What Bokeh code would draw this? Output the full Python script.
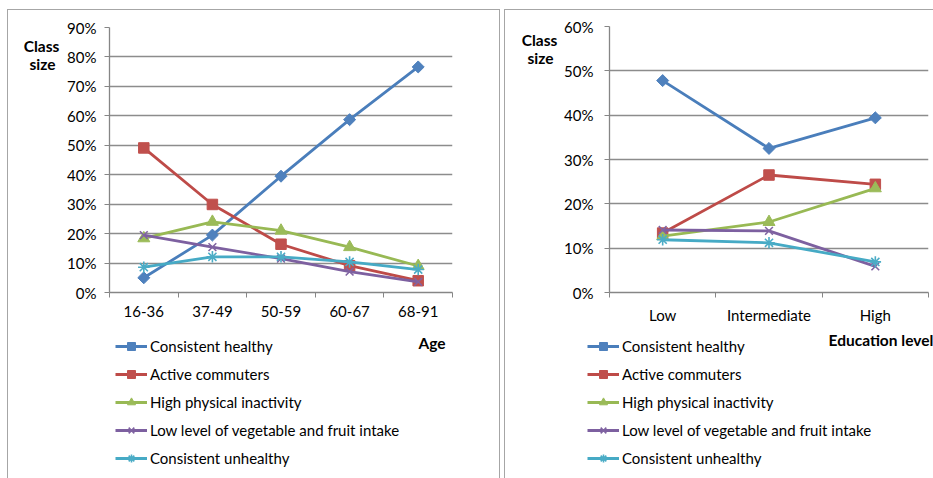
import numpy as np
from bokeh.plotting import figure
from bokeh.layouts import row, column
from bokeh.models import FixedTicker, NumeralTickFormatter, Range1d, Label
from bokeh.embed import file_html
from bokeh.resources import INLINE

# ---------------- data ----------------
series_names = ["Consistent healthy", "Active commuters", "High physical inactivity",
                "Low level of vegetable and fruit intake", "Consistent unhealthy"]

age_groups = ["16-36", "37-49", "50-59", "60-67", "68-91"]
age_healthy = [0.050, 0.195, 0.395, 0.587, 0.766]
age_commuters = [0.491, 0.299, 0.164, 0.091, 0.040]
age_inactivity = [0.184, 0.240, 0.210, 0.154, 0.090]
age_lowveg = [0.195, 0.154, 0.115, 0.071, 0.036]
age_unhealthy = [0.086, 0.121, 0.121, 0.104, 0.078]

edu_levels = ["Low", "Intermediate", "High"]
edu_healthy = [0.478, 0.325, 0.394]
edu_commuters = [0.134, 0.265, 0.244]
edu_inactivity = [0.127, 0.159, 0.235]
edu_lowveg = [0.141, 0.139, 0.059]
edu_unhealthy = [0.119, 0.112, 0.069]

age_ticks = [0, 0.1, 0.2, 0.3, 0.4, 0.5, 0.6, 0.7, 0.8, 0.9]
edu_ticks = [0, 0.1, 0.2, 0.3, 0.4, 0.5, 0.6]

# ---------------- style ----------------
line_colors = ["#4A7EBB", "#BE4B48", "#98B954", "#7D60A0", "#46AAC5"]
fill_colors = ["#4F81BD", "#C0504D", "#9BBB59", "#8064A2", "#4BACC6"]
markers = [("square", 8.5, np.pi / 4), ("square", 10.5, 0), ("triangle", 12, 0),
           ("x", 11, 0), ("asterisk", 11.5, 0)]
FONT = "Lato"
TICK_SIZE = "15px"
BOLD_SIZE = "15.5px"
GRID = "#8C8C8C"
AXIS = "#868686"
BORDER = "1px solid #A6A6A6"

TOP_H = 316      # height of the chart row
LEG_H = 152      # height of the legend strip
CLASS_W = 56     # width of the "Class size" strip


def blank_fig(w, h):
    f = figure(width=w, height=h, output_backend="svg", toolbar_location=None,
               x_range=Range1d(0, w), y_range=Range1d(0, h),
               x_axis_location=None, y_axis_location=None,
               min_border_left=0, min_border_right=0, min_border_top=0,
               min_border_bottom=0, outline_line_color=None,
               background_fill_color="white", border_fill_color="white")
    f.grid.visible = False
    return f


def add_series(p, xs, values, legend=False, y_range_name="default"):
    for i, (name, vals) in enumerate(zip(series_names, values)):
        m, s, a = markers[i]
        kw = dict(legend_label=name) if legend else {}
        p.line(xs, vals, line_color=line_colors[i], line_width=2.8,
               y_range_name=y_range_name, **kw)
        p.scatter(xs, vals, marker=m, size=s, angle=a, fill_color=fill_colors[i],
                  line_color=fill_colors[i],
                  line_width=1.6 if m in ("x", "asterisk") else 1,
                  y_range_name=y_range_name, **kw)


def make_panel(cats, values, yticks, chart_w, fl, fr, ft, fb, ystandoff,
               class_pos, legend_x, xlab, xlab_pos, panel_w, border_styles):
    ncat = len(cats)
    ymax = yticks[-1]
    xs = np.arange(ncat) + 0.5

    # ---- "Class size" strip ----
    cf = blank_fig(CLASS_W, TOP_H)
    for txt, (px, py) in zip(("Class", "size"), class_pos):
        cf.add_layout(Label(x=px, y=TOP_H - py, text=txt, text_font=FONT,
                            text_font_style="bold", text_font_size=BOLD_SIZE,
                            text_align="center", text_baseline="middle",
                            text_color="#000000"))

    # ---- chart ----
    p = figure(width=chart_w, height=TOP_H, output_backend="svg", toolbar_location=None,
               x_range=Range1d(0, ncat), y_range=Range1d(0, ymax),
               min_border_left=fl, min_border_right=fr, min_border_top=ft,
               min_border_bottom=fb, outline_line_color=None,
               background_fill_color="white", border_fill_color="white")
    add_series(p, xs, values)

    xa = p.xaxis[0]
    xa.ticker = FixedTicker(ticks=list(xs), minor_ticks=list(range(ncat + 1)))
    xa.major_label_overrides = {float(x): c for x, c in zip(xs, cats)}
    xa.major_tick_line_color = None
    xa.major_tick_out = 5
    xa.major_tick_in = 0
    xa.minor_tick_line_color = AXIS
    xa.minor_tick_out = 5
    xa.minor_tick_in = 0
    xa.axis_line_color = AXIS
    xa.axis_line_width = 1.3
    xa.major_label_standoff = 8
    xa.major_label_text_font = FONT
    xa.major_label_text_font_size = TICK_SIZE
    xa.major_label_text_color = "#000000"

    ya = p.yaxis[0]
    ya.ticker = FixedTicker(ticks=yticks)
    ya.formatter = NumeralTickFormatter(format="0%")
    ya.minor_tick_line_color = None
    ya.major_tick_line_color = AXIS
    ya.major_tick_out = 5
    ya.major_tick_in = 0
    ya.axis_line_color = AXIS
    ya.axis_line_width = 1.3
    ya.major_label_standoff = ystandoff
    ya.major_label_text_font = FONT
    ya.major_label_text_font_size = TICK_SIZE
    ya.major_label_text_color = "#000000"

    p.xgrid.grid_line_color = None
    p.ygrid.ticker = FixedTicker(ticks=yticks)
    p.ygrid.grid_line_color = GRID
    p.ygrid.grid_line_width = 1.3

    # ---- legend strip (series drawn on an off-screen range, only the legend shows) ----
    lf = blank_fig(panel_w, LEG_H)
    lf.extra_y_ranges = {"off": Range1d(start=5, end=6)}
    add_series(lf, xs, values, legend=True, y_range_name="off")
    lg = lf.legend[0]
    lg.location = (legend_x, 10)
    lg.padding = 0
    lg.margin = 0
    lg.spacing = 8
    lg.glyph_width = 32
    lg.glyph_height = 20
    lg.label_height = 20
    lg.label_standoff = 3
    lg.label_text_font = FONT
    lg.label_text_font_size = TICK_SIZE
    lg.label_text_color = "#000000"
    lg.border_line_color = None
    lg.background_fill_alpha = 0
    lf.add_layout(Label(x=xlab_pos[0], y=LEG_H - xlab_pos[1], text=xlab, text_font=FONT,
                        text_font_style="bold", text_font_size=BOLD_SIZE,
                        text_align="left", text_baseline="middle",
                        text_color="#000000"))

    return column(row(cf, p, spacing=0), lf, spacing=0, styles=border_styles)


# left panel: content area 491 x 468 ; right panel: content area 428 x 468
left = make_panel(age_groups,
                  [age_healthy, age_commuters, age_inactivity, age_lowveg, age_unhealthy],
                  age_ticks, 491 - CLASS_W, 43, 47, 17, 34, 8,
                  ((33, 22), (34, 43)), 107, "Age", (410, 16), 491,
                  {"border-left": BORDER, "border-top": BORDER, "border-right": BORDER})

right = make_panel(edu_levels,
                   [edu_healthy, edu_commuters, edu_inactivity, edu_lowveg, edu_unhealthy],
                   edu_ticks, 428 - CLASS_W, 45, 5, 16, 34, 11,
                   ((34, 16), (35, 38)), 82, "Education level", (323, 13), 428,
                   {"border-left": BORDER, "border-top": BORDER})

layout = row(left, right, spacing=4, margin=(9, 0, 0, 7))
open("out.html", "w").write(file_html(layout, INLINE))
